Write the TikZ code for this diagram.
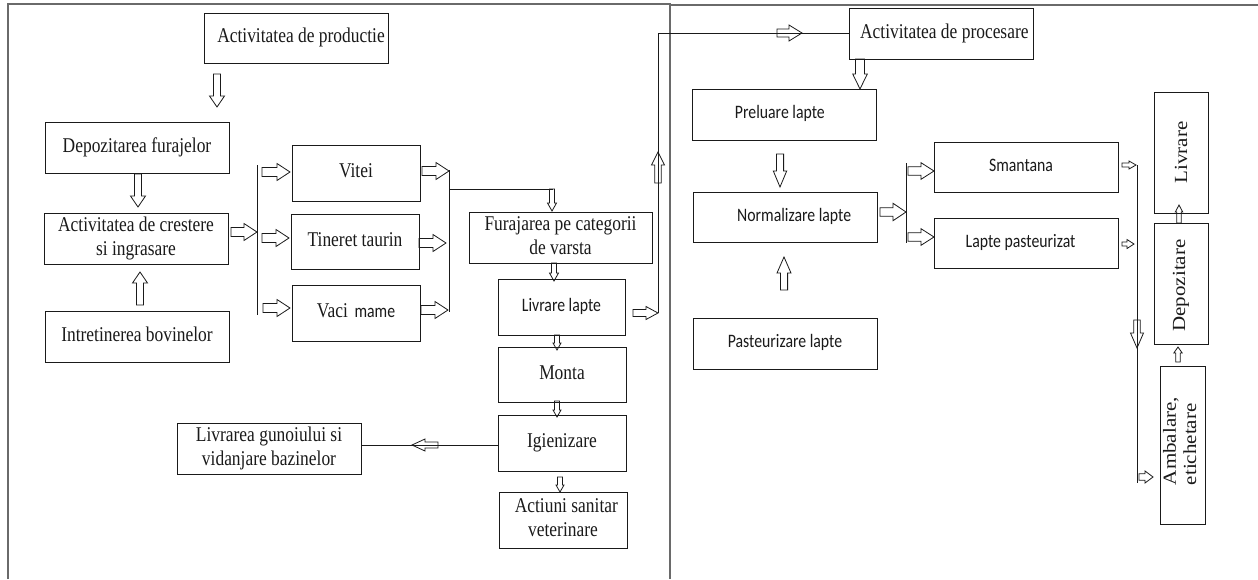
\documentclass[tikz,border=0pt]{standalone}
\usepackage{fontspec}
\usepackage{graphicx}
\setmainfont{Liberation Serif}
\newfontfamily\tmf{Liberation Serif}
\newfontfamily\cbf{Carlito}
\usetikzlibrary{calc}
\definecolor{ink}{HTML}{1A1A1A}
\definecolor{framec}{HTML}{6A6A6A}
\newcommand\sq[1]{\scalebox{0.83}[1]{\begin{tabular}{@{}c@{}}#1\end{tabular}}}
\tikzset{
 box/.style={draw=ink, line width=1pt, inner sep=0pt, outer sep=0pt, align=center, text=ink},
 serif/.style={font=\tmf\fontsize{21}{24}\selectfont},
 sans/.style={font=\cbf\fontsize{19}{22}\selectfont},
 rtext/.style={rotate=90, inner sep=0pt, text=ink, font=\tmf\fontsize{21}{23}\selectfont},
 arr/.style={draw=ink, line width=0.8pt, line join=miter},
 wire/.style={draw=ink, line width=0.9pt},
 panel/.style={draw=framec, line width=1.4pt},
}
\newcommand\bx[7]{\node[box,#6, minimum width={(#4-#2)*1pt}, minimum height={(#5-#3)*1pt}] (#1) at ({(#2+#4)/2},{(#3+#5)/2}) {#7};}
\newcommand\harr[7]{%
 \pgfmathsetmacro\hA{atan2(#2-#4,#3-#1)}%
 \pgfmathsetmacro\hL{veclen(#3-#1,#4-#2)}%
 \pgfmathsetmacro\hB{\hL-#7}%
 \draw[arr,shift={(#1,#2)},rotate=\hA] (0pt,-#5pt) -- (\hB pt,-#5pt) -- (\hB pt,-#6pt) -- (\hL pt,0pt) -- (\hB pt,#6pt) -- (\hB pt,#5pt) -- (0pt,#5pt) -- cycle;}
\begin{document}
\begin{tikzpicture}[x=1pt,y=-1pt]
\useasboundingbox[fill=white] (0,0) rectangle (1258,579);
% panels
\coordinate (pl1) at (8,579);
\coordinate (pl2) at (8,4);
\coordinate (pl3) at (670,4);
\coordinate (pl4) at (670,579);
\coordinate (pr1) at (670,5);
\coordinate (pr2) at (1258,5);
\draw[panel] (pl1) -- (pl2) -- (pl3) -- (pl4);
\draw[panel] (pr1) -- (pr2);
% left panel boxes
\bx{prod}{204}{13}{388}{63}{serif}{\sq{\hspace*{12pt}Activitatea de productie}}
\bx{dep}{45}{122}{229}{173}{serif}{\sq{Depozitarea furajelor}}
\bx{cres}{44}{213}{228}{264}{serif}{\sq{Activitatea de crestere\\si ingrasare}}
\bx{intr}{45}{311}{229}{362}{serif}{\sq{Intretinerea bovinelor}}
\bx{vit}{292}{145}{420}{201}{serif}{\sq{Vitei}}
\bx{tin}{291}{214}{419}{269}{serif}{\sq{Tineret taurin}}
\bx{vaci}{292}{285}{420}{341}{serif}{\sq{Vaci\hspace{8pt}{\cbf\fontsize{19}{22}\selectfont mame}}}
\bx{fur}{469}{212}{652}{263}{serif}{\sq{Furajarea pe categorii\\de varsta}}
\bx{liv}{498}{279}{625}{335}{sans}{\sq{Livrare lapte}}
\bx{monta}{498}{347}{626}{402}{serif}{\sq{Monta}}
\bx{igi}{498}{415}{626}{471}{serif}{\sq{Igienizare}}
\bx{act}{499}{492}{627}{548}{serif}{\sq{\hspace*{8pt}Actiuni sanitar\\veterinare}}
\bx{gun}{177}{423}{361}{474}{serif}{\sq{Livrarea gunoiului si\\vidanjare bazinelor}}
% right panel boxes
\bx{proc}{849}{8}{1033}{59}{serif}{\sq{\hspace*{8pt}Activitatea de procesare}}
\bx{prel}{692}{89}{876}{140}{sans}{\sq{Preluare lapte\hspace*{10pt}}}
\bx{norm}{693}{192}{877}{242}{sans}{\sq{\hspace*{22pt}Normalizare lapte}}
\bx{past}{693}{318}{877}{369}{sans}{\sq{Pasteurizare lapte}}
\bx{sman}{934}{142}{1118}{192}{sans}{\sq{Smantana\hspace*{12pt}}}
\bx{lpast}{934}{218}{1118}{268}{sans}{\sq{Lapte pasteurizat\hspace*{13pt}}}
\bx{livr}{1154}{92}{1208}{213}{}{}
\bx{depo}{1154}{223}{1208}{344}{}{}
\bx{amb}{1160}{366}{1205}{524}{}{}
\node[rtext] (livrT) at (livr.center) {\scalebox{1}[0.88]{Livrare}};
\node[rtext] (depoT) at ($(depo.center)+(0,2)$) {\scalebox{1}[0.88]{Depozitare}};
\node[rtext, align=left] (ambT) at (1182,441) {\scalebox{1}[0.88]{\begin{tabular}{@{}l@{}}Ambalare,\\etichetare\end{tabular}}};
% bus lines
\coordinate (b1t) at (257,165); \coordinate (b1b) at (257,315);
\draw[wire] (b1t) -- (b1b);
\coordinate (b2t) at (449,170); \coordinate (b2b) at (449,312);
\coordinate (b2m) at (449,189); \coordinate (b2e) at (553,189);
\draw[wire] (b2t) -- (b2b);
\draw[wire] (b2m) -- (b2e);
\coordinate (up1) at (658,313); \coordinate (up2) at (658,33);
\draw[wire] (up1) -- (up2) -- (proc.west |- up2);
\draw[wire] (igi.west |- 0,445) -- (gun.east |- 0,445);
\coordinate (b3t) at (906,163); \coordinate (b3b) at (906,243);
\draw[wire] (b3t) -- (b3b);
\coordinate (b4t) at (1137,165); \coordinate (b4b) at (1137,483);
\draw[wire] (b4t) -- (b4b);
% arrows left panel
\harr{217}{74}{217}{107}{3.5}{7.5}{11}
\harr{138}{174}{138}{207}{3.5}{7.5}{11}
\harr{140}{305}{140}{272}{3.5}{7.5}{11}
\harr{231}{232}{257}{232}{4.5}{8.5}{13}
\harr{262}{172}{290}{172}{4.5}{8.5}{13}
\harr{262}{238}{289}{238}{4.5}{8.5}{13}
\harr{263}{308}{290}{308}{4.5}{8.5}{13}
\harr{422}{171}{449}{171}{4.5}{8.5}{13}
\harr{419}{243}{446}{243}{4.5}{8.5}{13}
\harr{421}{310}{448}{310}{4.5}{8.5}{13}
\harr{552}{189}{552}{211}{2.5}{4.5}{8}
\harr{554}{263}{554}{281}{2.5}{4.5}{8}
\harr{633}{313}{658}{313}{3.5}{6.5}{12}
\harr{658}{183}{658}{152}{3.3}{6.5}{13}
\harr{777}{33}{802}{33}{4}{8}{13}
\harr{557}{335}{557}{350}{2.5}{4}{7}
\harr{557}{401}{557}{417}{2.5}{4}{7}
\harr{560}{477}{560}{492}{2.5}{4}{7}
\harr{438}{445}{412}{445}{3}{6}{13}
% arrows right panel
\harr{860}{59}{860}{89}{4.5}{7.3}{15}
\harr{780}{154}{780}{187}{3.6}{6.7}{16}
\harr{784}{290}{784}{257}{3.6}{7}{16}
\harr{880}{212}{906}{212}{4.2}{8.7}{13}
\harr{908}{171}{934}{171}{4.2}{8.3}{13}
\harr{908}{237}{934}{237}{4.2}{8.3}{13}
\harr{1122}{165}{1136}{165}{2}{4}{7}
\harr{1122}{244}{1134}{244}{2}{4.5}{7}
\harr{1137}{320}{1137}{348}{3.3}{6.5}{15}
\harr{1139}{477}{1153}{477}{3.2}{6}{8}
\harr{1178}{362}{1178}{347}{2.2}{4.2}{6}
\harr{1179}{223}{1179}{205}{2.2}{3.7}{7}
\end{tikzpicture}
\end{document}
